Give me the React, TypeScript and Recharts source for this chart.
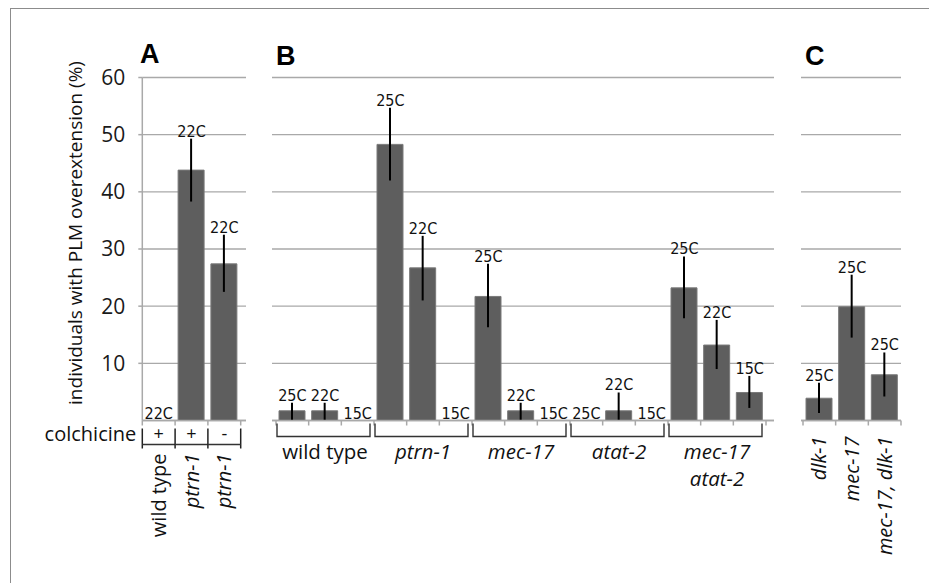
import React from 'react';
import { ComposedChart, Bar, Scatter, ErrorBar, XAxis, YAxis, CartesianGrid } from 'recharts';

const W = 929;
const H = 583;
const GRID = '#a9a9a9';
const BAR = '#5e5e5e';
const FONT = "'Open Sans', 'Noto Sans', sans-serif";
const NARROW = "'DejaVu Sans Condensed', 'DejaVu Sans', sans-serif";

const yTicks = [10, 20, 30, 40, 50, 60];

// panel A
const aGenotypes = ['wild type', 'ptrn-1', 'ptrn-1'];
const aColchicine = ['+', '+', '-'];
const aTemps = ['22C', '22C', '22C'];
const aValues = [0, 43.8, 27.4];
const aErrLow = [0, 38.3, 22.5];
const aErrHigh = [0, 49.3, 32.5];

// panel B
const bGroups = [['wild type'], ['ptrn-1'], ['mec-17'], ['atat-2'], ['mec-17', 'atat-2']];
const bTemps = ['25C', '22C', '15C', '25C', '22C', '15C', '25C', '22C', '15C', '25C', '22C', '15C', '25C', '22C', '15C'];
const bValues = [1.7, 1.7, 0, 48.3, 26.7, 0, 21.7, 1.7, 0, 0, 1.7, 0, 23.2, 13.2, 4.9];
const bErrLow = [0, 0, 0, 42.0, 21.0, 0, 16.3, 0, 0, 0, 0, 0, 17.9, 9.0, 2.2];
const bErrHigh = [3.1, 3.1, 0, 54.7, 32.3, 0, 27.4, 3.1, 0, 0, 4.9, 0, 28.7, 17.6, 7.8];

// panel C
const cGenotypes = ['dlk-1', 'mec-17', 'mec-17, dlk-1'];
const cTemps = ['25C', '25C', '25C'];
const cValues = [3.9, 19.9, 8.0];
const cErrLow = [1.3, 14.5, 4.2];
const cErrHigh = [6.6, 25.5, 11.9];

function rows(prefix: string, values: number[], lo: number[], hi: number[], temps: string[]) {
  return values.map((v, i) => ({
    key: `${prefix}${i}`,
    value: v,
    err: [v - lo[i], Math.max(hi[i] - v, 0)],
    labelAt: Math.max(v, hi[i]),
    temp: temps[i],
  }));
}

const aRows = rows('a', aValues, aErrLow, aErrHigh, aTemps);
const bRows = rows('b', bValues, bErrLow, bErrHigh, bTemps);
const cRows = rows('c', cValues, cErrLow, cErrHigh, cTemps);

const TempLabel = (props: any) => {
  const { cx, cy, payload } = props;
  if (cx == null || cy == null) return null;
  return (
    <text x={cx} y={cy - 2} textAnchor="middle" fontSize={16} fontFamily={NARROW} fontStretch="condensed" fill="#111">
      {payload.temp}
    </text>
  );
};

const boundaryTicks = (x: number, y: number, half: number, last: boolean) => (
  <>
    <line x1={x - half} x2={x - half} y1={y} y2={y + 5} stroke={GRID} strokeWidth={1.5} />
    {last && <line x1={x + half} x2={x + half} y1={y} y2={y + 5} stroke={GRID} strokeWidth={1.5} />}
  </>
);

const ATick = (props: any) => {
  const { x, y, index, payload } = props;
  const half = payload?.offset || 16.4;
  const last = index === aRows.length - 1;
  const left = x - half;
  const right = x + half;
  return (
    <g>
      {boundaryTicks(x, y, half, last)}
      {index === 0 && (
        <text x={left - 6} y={y + 20} textAnchor="end" fontSize={20} fontFamily={FONT} fill="#111">colchicine</text>
      )}
      <text x={x} y={y + 19} textAnchor="middle" fontSize={18} fontFamily={FONT} fill="#111">{aColchicine[index]}</text>
      <line x1={left} x2={left} y1={y + 8} y2={y + 28} stroke="#222" strokeWidth={1.5} />
      {last && <line x1={right} x2={right} y1={y + 8} y2={y + 28} stroke="#222" strokeWidth={1.5} />}
      <line x1={left} x2={right} y1={y + 24} y2={y + 24} stroke="#333" strokeWidth={1.5} />
      <text
        transform={`translate(${x + 7}, ${y + 33}) rotate(-90)`}
        textAnchor="end"
        fontSize={20}
        fontFamily={FONT}
        fontStyle={index > 0 ? 'italic' : 'normal'}
        fill="#111"
      >
        {aGenotypes[index]}
      </text>
    </g>
  );
};

const BTick = (props: any) => {
  const { x, y, index, payload } = props;
  const half = payload?.offset || 16.3;
  const last = index === bRows.length - 1;
  const g = Math.floor(index / 3);
  const showGroup = index % 3 === 1;
  const gl = x - 3 * half + 1;
  const gr = x + 3 * half - 4;
  const lines = bGroups[g];
  return (
    <g>
      {boundaryTicks(x, y, half, last)}
      {showGroup && (
        <>
          <path d={`M${gl},${y + 3}V${y + 16}H${gr}V${y + 3}`} fill="none" stroke="#333" strokeWidth={1.4} />
          {lines.map((t, k) => (
            <text
              key={k}
              x={x}
              y={y + 38 + k * 27}
              textAnchor="middle"
              fontSize={20.5}
              fontFamily={FONT}
              fontStyle={t === 'wild type' ? 'normal' : 'italic'}
              fill="#111"
            >
              {t}
            </text>
          ))}
        </>
      )}
    </g>
  );
};

const CTick = (props: any) => {
  const { x, y, index, payload } = props;
  const half = payload?.offset || 16.3;
  const last = index === cRows.length - 1;
  return (
    <g>
      {boundaryTicks(x, y, half, last)}
      <text
        transform={`translate(${x + 7}, ${y + 16}) rotate(-90)`}
        textAnchor="end"
        fontSize={20}
        fontFamily={FONT}
        fontStyle="italic"
        fill="#111"
      >
        {cGenotypes[index]}
      </text>
    </g>
  );
};

const TOP = 77.5;
const AXIS_H = 30;
const BOTTOM = H - 420.5 - AXIS_H;

function Panel({ data, left, right, tick, padL, padR, showY }: any) {
  return (
    <div style={{ position: 'absolute', left: 0, top: 0 }}>
      <ComposedChart
        width={W}
        height={H}
        data={data}
        margin={{ top: TOP, bottom: BOTTOM, left: showY ? left - 60 : left, right: W - right }}
        barSize={26}
        style={{ overflow: 'visible' }}
      >
        <CartesianGrid vertical={false} stroke={GRID} strokeWidth={1.3} />
        <XAxis
          dataKey="key"
          height={AXIS_H}
          interval={0}
          tickSize={0}
          tickMargin={0}
          tickLine={false}
          axisLine={{ stroke: GRID, strokeWidth: 1.5 }}
          padding={{ left: padL, right: padR }}
          tick={tick}
        />
        <YAxis
          domain={[0, 60]}
          ticks={yTicks}
          hide={!showY}
          width={60}
          axisLine={{ stroke: GRID, strokeWidth: 1.5 }}
          tickLine={{ stroke: GRID, strokeWidth: 1.5 }}
          tickSize={4}
          tickMargin={13}
          tick={{ fill: '#1a1a1a', fontSize: 21, fontFamily: FONT }}
        />
        <Bar dataKey="value" fill={BAR} stroke="#7a7a7a" strokeWidth={1} isAnimationActive={false}>
          <ErrorBar dataKey="err" width={0} stroke="#000" strokeWidth={2} direction="y" />
        </Bar>
        <Scatter dataKey="labelAt" shape={TempLabel} isAnimationActive={false} />
      </ComposedChart>
    </div>
  );
}

export default function App() {
  return (
    <div style={{ position: 'absolute', left: 0, top: 0, width: W, height: H, background: '#fff', overflow: 'hidden' }}>
      <div style={{ position: 'absolute', left: 10, top: 8, right: 0, bottom: 0, borderLeft: '1.5px solid #8c8c8c', borderTop: '1.5px solid #8c8c8c' }} />
      <Panel data={aRows} left={142.3} right={246} tick={<ATick />} padL={0} padR={5.3} showY />
      <Panel data={bRows} left={272} right={774} tick={<BTick />} padL={4} padR={8} />
      <Panel data={cRows} left={801} right={901} tick={<CTick />} padL={2} padR={0} />
      <svg width={W} height={H} style={{ position: 'absolute', left: 0, top: 0, pointerEvents: 'none' }}>
        <text x={140} y={63} fontSize={27} fontWeight="bold" fontFamily="'Liberation Sans', Arial, sans-serif" fill="#000">A</text>
        <text x={276} y={65} fontSize={27} fontWeight="bold" fontFamily="'Liberation Sans', Arial, sans-serif" fill="#000">B</text>
        <text x={805} y={65} fontSize={27} fontWeight="bold" fontFamily="'Liberation Sans', Arial, sans-serif" fill="#000">C</text>
        <text
          transform="translate(82, 233) rotate(-90)"
          textAnchor="middle"
          fontSize={19}
          fontFamily={FONT}
          fill="#111"
        >
          individuals with PLM overextension (%)
        </text>
      </svg>
    </div>
  );
}
